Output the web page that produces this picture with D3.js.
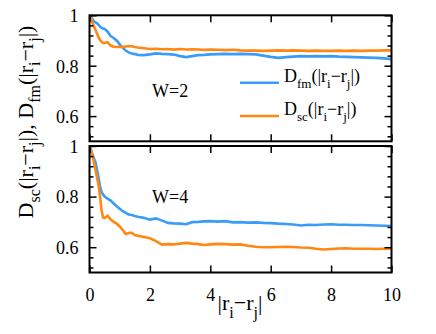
<!DOCTYPE html>
<html><head><meta charset="utf-8">
<script src="https://cdn.jsdelivr.net/npm/d3@7"></script>
<style>body{margin:0;background:#fff}svg{display:block}
svg text{font-family:"Liberation Serif","Times New Roman",Times,"DejaVu Serif",serif !important}</style>
</head><body><div id="chart"></div>
<script>
const xs = [0,0.05,0.1,0.15,0.2,0.25,0.3,0.35,0.4,0.45,0.5,0.6,0.7,0.8,0.9,1.0,1.1,1.2,1.3,1.4,1.5,1.6,1.8,2.0,2.2,2.4,2.6,2.8,3.0,3.2,3.4,3.6,3.8,4.0,4.25,4.5,4.75,5.0,5.25,5.5,5.75,6.0,6.25,6.5,6.75,7.0,7.25,7.5,7.75,8.0,8.25,8.5,8.75,9.0,9.25,9.5,9.75,10];
const fmW2 = [1.0,0.995,0.985,0.975,0.972,0.968,0.962,0.955,0.950,0.948,0.946,0.935,0.918,0.910,0.900,0.885,0.872,0.860,0.853,0.848,0.846,0.843,0.842,0.845,0.849,0.847,0.846,0.844,0.838,0.834,0.838,0.842,0.843,0.845,0.846,0.847,0.846,0.847,0.846,0.845,0.840,0.835,0.831,0.834,0.836,0.838,0.837,0.838,0.837,0.838,0.836,0.835,0.834,0.833,0.832,0.831,0.829,0.826];
const scW2 = [1.0,0.99,0.97,0.955,0.942,0.928,0.912,0.902,0.895,0.890,0.890,0.893,0.880,0.875,0.874,0.875,0.874,0.876,0.878,0.877,0.874,0.872,0.869,0.866,0.867,0.865,0.866,0.864,0.866,0.864,0.865,0.864,0.863,0.864,0.863,0.862,0.863,0.861,0.860,0.860,0.859,0.860,0.861,0.860,0.861,0.860,0.859,0.860,0.859,0.859,0.860,0.859,0.860,0.859,0.860,0.860,0.861,0.861];
const fmW4 = [1.0,0.985,0.965,0.95,0.935,0.905,0.875,0.84,0.818,0.808,0.800,0.792,0.784,0.773,0.762,0.752,0.742,0.736,0.729,0.727,0.723,0.720,0.716,0.709,0.714,0.705,0.696,0.694,0.693,0.691,0.699,0.700,0.702,0.703,0.701,0.703,0.698,0.699,0.697,0.698,0.696,0.695,0.693,0.692,0.690,0.686,0.689,0.688,0.690,0.691,0.689,0.689,0.688,0.688,0.687,0.686,0.685,0.684];
const scW4 = [1.0,0.98,0.96,0.935,0.905,0.875,0.845,0.80,0.745,0.717,0.715,0.724,0.710,0.700,0.693,0.682,0.668,0.652,0.656,0.657,0.648,0.645,0.640,0.635,0.624,0.610,0.612,0.611,0.614,0.617,0.614,0.612,0.609,0.611,0.613,0.612,0.610,0.611,0.606,0.602,0.600,0.600,0.601,0.602,0.601,0.599,0.598,0.594,0.591,0.593,0.595,0.596,0.594,0.594,0.594,0.593,0.594,0.595];
const xTicks = [0,2,4,6,8,10];
const yMajor = [0.6,0.8,1];
const yMinor = [0.52,0.56,0.64,0.68,0.72,0.76,0.84,0.88,0.92,0.96];
const panelLabels = ["W=2","W=4"];

const W = 436, H = 334;
const blue = "#3a9cf7", orange = "#ff8712";
const FONT = "Liberation Serif";
const svg = d3.select("#chart").append("svg").attr("width", W).attr("height", H)
  .attr("font-family", FONT);

const x = d3.scaleLinear().domain([0,10]).range([89.5,391.5]);
const panels = [
  {top:15.3, bottom:141.3, fm:fmW2, sc:scW2, label:panelLabels[0], ly:97},
  {top:146, bottom:272.5, fm:fmW4, sc:scW4, label:panelLabels[1], ly:203}
];

panels.forEach((p, i) => {
  const y = d3.scaleLinear().domain([0.5,1]).range([p.bottom, p.top]);
  const g = svg.append("g");
  const cid = "clip" + i;
  svg.append("clipPath").attr("id", cid).append("rect")
    .attr("x", x(0)).attr("y", p.top).attr("width", x(10)-x(0)).attr("height", p.bottom-p.top);

  const line = d3.line().x((d,k) => x(xs[k])).y(d => y(d));
  g.append("path").datum(p.fm).attr("d", line).attr("fill","none")
    .attr("stroke", blue).attr("stroke-width", 2.6).attr("clip-path", `url(#${cid})`);
  g.append("path").datum(p.sc).attr("d", line).attr("fill","none")
    .attr("stroke", orange).attr("stroke-width", 2.6).attr("clip-path", `url(#${cid})`);

  const axL = g.append("g").attr("transform", `translate(${x(0)},0)`)
    .call(d3.axisLeft(y).tickValues(yMajor).tickSizeInner(-7).tickSizeOuter(0).tickPadding(11)
      .tickFormat(d => d === 1 ? "1" : d3.format(".1f")(d)));
  const axLm = g.append("g").attr("transform", `translate(${x(0)},0)`)
    .call(d3.axisLeft(y).tickValues(yMinor).tickSizeInner(-4).tickSizeOuter(0).tickFormat(""));
  const axR = g.append("g").attr("transform", `translate(${x(10)},0)`)
    .call(d3.axisRight(y).tickValues(yMajor).tickSizeInner(-7).tickSizeOuter(0).tickFormat(""));
  const axRm = g.append("g").attr("transform", `translate(${x(10)},0)`)
    .call(d3.axisRight(y).tickValues(yMinor).tickSizeInner(-4).tickSizeOuter(0).tickFormat(""));
  const axT = g.append("g").attr("transform", `translate(0,${p.top})`)
    .call(d3.axisTop(x).tickValues(xTicks).tickSizeInner(-7).tickSizeOuter(0).tickFormat(""));
  const axB = g.append("g").attr("transform", `translate(0,${p.bottom})`)
    .call(d3.axisBottom(x).tickValues(xTicks).tickSizeInner(-7).tickSizeOuter(0).tickPadding(16)
      .tickFormat(i === 1 ? d3.format("d") : ""));
  [axL, axLm, axR, axRm, axT, axB].forEach(a => {
    a.attr("font-family", FONT).attr("font-size", 18);
    a.select(".domain").remove();
    a.selectAll(".tick line").attr("stroke", "#000").attr("stroke-width", 1.5);
    a.selectAll("text").attr("fill", "#000");
  });
  axL.selectAll("text").attr("dy", "0.35em");

  g.append("rect").attr("x", x(0)).attr("y", p.top).attr("width", x(10)-x(0)).attr("height", p.bottom-p.top)
    .attr("fill", "none").attr("stroke", "#000").attr("stroke-width", 2);

  g.append("text").attr("x", 152).attr("y", p.ly).attr("font-size", 18).text(p.label);
});

function subText(sel, parts, size, subSize, shift) {
  let down = false;
  parts.forEach(([t, sub]) => {
    const ts = sel.append("tspan").text(t).attr("font-size", sub ? subSize : size);
    if (sub && !down) { ts.attr("dy", shift); down = true; }
    else if (!sub && down) { ts.attr("dy", -shift); down = false; }
  });
}

const legend = [
  {color: blue, sub: "fm", y: 82.7},
  {color: orange, sub: "sc", y: 116}
];
legend.forEach(l => {
  svg.append("line").attr("x1", 240).attr("x2", 279).attr("y1", l.y).attr("y2", l.y)
    .attr("stroke", l.color).attr("stroke-width", 2.6);
  const t = svg.append("text").attr("x", 284).attr("y", l.y - 1);
  subText(t, [["D",0],[l.sub,1],["(|r",0],["i",1],["−r",0],["j",1],["|)",0]], 18, 13, 6);
});

const xl = svg.append("text").attr("x", 240).attr("y", 310).attr("text-anchor", "middle");
subText(xl, [["|r",0],["i",1],["−r",0],["j",1],["|",0]], 22, 16, 8);

const yl = svg.append("text").attr("transform", "translate(33,122) rotate(-90)").attr("text-anchor", "middle");
subText(yl, [["D",0],["sc",1],["(|r",0],["i",1],["−r",0],["j",1],["|), D",0],["fm",1],["(|r",0],["i",1],["−r",0],["j",1],["|)",0]], 22, 16, 7);
</script>
</body></html>
